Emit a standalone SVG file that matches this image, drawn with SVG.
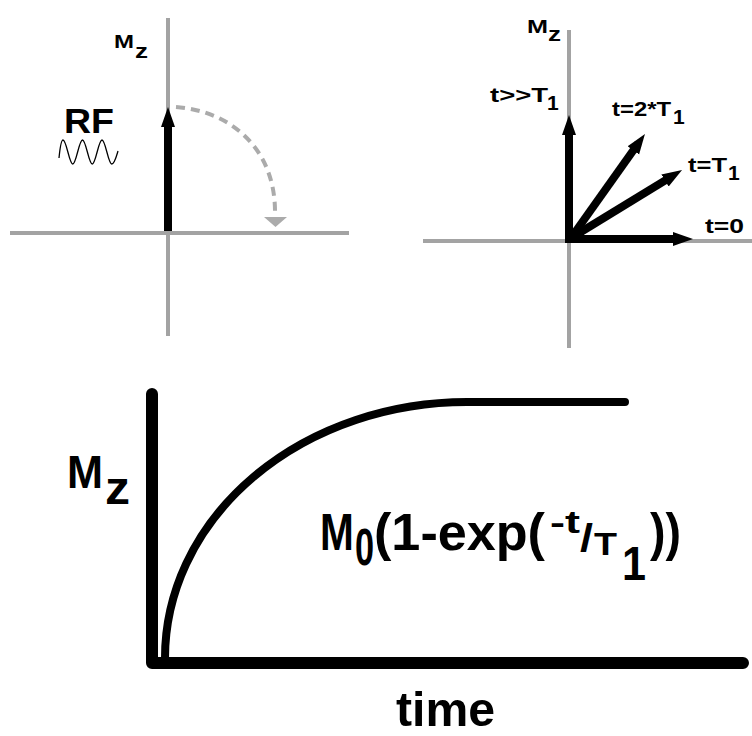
<svg xmlns="http://www.w3.org/2000/svg" width="752" height="736" viewBox="0 0 752 736">
<defs>
<style>
.ax{stroke:#a3a3a3;stroke-width:4;fill:none}
.vec{stroke:#000;stroke-width:8;fill:none;marker-end:url(#ah)}
.t{font-family:"Liberation Sans",Arial,sans-serif;font-weight:bold;fill:#000}
.thick{stroke:#000;fill:none;stroke-linecap:round;stroke-linejoin:round}
</style>
<marker id="ah" markerUnits="userSpaceOnUse" markerWidth="22" markerHeight="16" refX="8" refY="7" orient="auto" viewBox="0 0 22 14">
<path d="M0,0 L20,7 L0,14 z" fill="#000"/>
</marker>
</defs>
<rect width="752" height="736" fill="#fff"/>

<g id="left-panel">
<line class="ax" x1="168" y1="18" x2="168" y2="336"/>
<line class="ax" x1="10" y1="233" x2="349" y2="233"/>
<text class="t"><tspan x="114" y="48" font-size="18" textLength="20" lengthAdjust="spacingAndGlyphs">M</tspan><tspan x="135" y="58" font-size="20" textLength="13" lengthAdjust="spacingAndGlyphs">z</tspan></text>
<text class="t" x="64" y="133" font-size="35" textLength="50" lengthAdjust="spacingAndGlyphs">RF</text>
<path d="M59,158 C60,148 61.5,140 63,140 C66.5,140 69.25,164 72.75,164 C76.25,164 79,140 82.5,140 C86,140 88.75,164 92.25,164 C95.75,164 98.5,140 102,140 C105.5,140 108.25,164 111.75,164 C114.5,164 116.5,156 118,151" fill="none" stroke="#000" stroke-width="1.3"/>
<line class="vec" x1="168" y1="231" x2="168" y2="119"/>
<path d="M176,107 C232,111 276,150 275,214" fill="none" stroke="#ababab" stroke-width="4" stroke-dasharray="9,6"/>
<path d="M264,217 L287,217 L275.5,227 z" fill="#ababab"/>
</g>

<g id="right-panel">
<line class="ax" x1="569" y1="30" x2="569" y2="348"/>
<line class="ax" x1="423" y1="241" x2="752" y2="241"/>
<text class="t"><tspan x="527" y="33" font-size="18" textLength="21" lengthAdjust="spacingAndGlyphs">M</tspan><tspan x="548" y="41" font-size="20" textLength="13" lengthAdjust="spacingAndGlyphs">z</tspan></text>
</g>

<g id="vectors">
<line class="vec" x1="569" y1="243" x2="569" y2="127"/>
<line class="vec" x1="571" y1="238" x2="638" y2="143.8"/>
<line class="vec" x1="571" y1="238" x2="671.8" y2="176.3"/>
<line class="vec" x1="565" y1="239" x2="681" y2="239"/>
</g>

<g id="vector-labels">
<text class="t" font-size="21"><tspan x="490" y="102" textLength="58" lengthAdjust="spacingAndGlyphs">t&gt;&gt;T</tspan><tspan x="547" y="110">1</tspan></text>
<text class="t" font-size="21"><tspan x="612" y="116" textLength="59" lengthAdjust="spacingAndGlyphs">t=2*T</tspan><tspan x="673" y="124">1</tspan></text>
<text class="t" font-size="21"><tspan x="688" y="172" textLength="39" lengthAdjust="spacingAndGlyphs">t=T</tspan><tspan x="728" y="180">1</tspan></text>
<text class="t" x="705" y="233" font-size="21" textLength="39" lengthAdjust="spacingAndGlyphs">t=0</text>
</g>

<g id="graph">
<path class="thick" stroke-width="12" d="M152,394 L152,663 L743,663"/>
<path class="thick" stroke-width="8" d="M165,658 A302,256 0 0 1 467,402 L625,402"/>
<text class="t" font-size="46"><tspan x="67" y="488" textLength="36" lengthAdjust="spacingAndGlyphs">M</tspan><tspan x="105" y="504" textLength="25" lengthAdjust="spacingAndGlyphs">z</tspan></text>
<text class="t" x="396" y="726" font-size="48" textLength="99" lengthAdjust="spacingAndGlyphs">time</text>
</g>

<g id="formula">
<text class="t" font-size="52" transform="translate(320,550) scale(0.78,1)">M</text>
<text class="t" font-size="52" transform="translate(355,565) scale(0.66,1)">0</text>
<text class="t" font-size="52"><tspan x="374" y="550" textLength="171" lengthAdjust="spacingAndGlyphs">(1-exp(</tspan><tspan x="550" y="533" font-size="32" textLength="30" lengthAdjust="spacingAndGlyphs">-t</tspan><tspan x="580" y="551" font-size="38" textLength="13" lengthAdjust="spacingAndGlyphs">/</tspan><tspan x="594" y="555" font-size="32" textLength="23" lengthAdjust="spacingAndGlyphs">T</tspan><tspan x="622" y="580" font-size="48" textLength="24" lengthAdjust="spacingAndGlyphs">1</tspan><tspan x="650" y="550" textLength="31" lengthAdjust="spacingAndGlyphs">))</tspan></text>
</g>
</svg>
